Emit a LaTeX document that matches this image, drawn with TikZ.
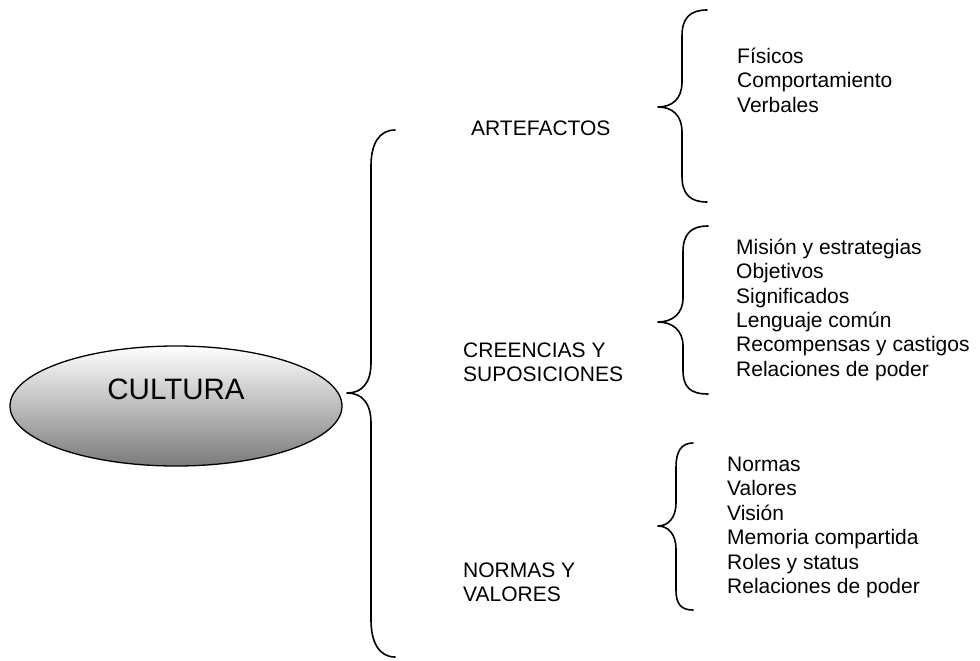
\documentclass[tikz,border=0pt]{standalone}
\usepackage{fontspec}
\setmainfont{Liberation Sans}
\usetikzlibrary{shapes.geometric}
\begin{document}
\begin{tikzpicture}[x=1pt,y=-1pt,
  bracestyle/.style={line width=1.6pt, line cap=round, line join=round},
  txt/.style={font=\fontsize{21}{24.4}\selectfont, inner sep=0pt, anchor=base west, align=left},
  mainnode/.style={ellipse, draw, line width=1.3pt, top color=white, bottom color=black!52,
    minimum width=332pt, minimum height=120pt, inner sep=0pt,
    font=\fontsize{29.5}{34}\selectfont, text height=21.5pt, text depth=35.5pt}]
\useasboundingbox (0,0) rectangle (980,661);

% central node
\node[mainnode] (cultura) at (176,406) {CULTURA};

% main brace
\coordinate (bigtip) at (347,393);
\draw[bracestyle] (395,130) .. controls (379,130) and (371,144) .. (371,166)
  -- (371,363) .. controls (371,383) and (362,393) .. (bigtip)
  .. controls (362,393) and (371,403) .. (371,423)
  -- (371,620) .. controls (371,642) and (379,657) .. (395,657);

% categories (base anchor = baseline of the last line)
\node[txt] (artefactos) at (471,135) {ARTEFACTOS};
\node[txt] (creencias) at (463,381.7) {CREENCIAS Y\\SUPOSICIONES};
\node[txt] (normas) at (463,601.7) {NORMAS Y\\VALORES};

% brace 1
\coordinate (tipA) at (658,107);
\draw[bracestyle] (707,10) .. controls (690,10) and (682,18) .. (682,36)
  -- (682,82) .. controls (682,99) and (672,107) .. (tipA)
  .. controls (672,107) and (682,115) .. (682,132)
  -- (682,176) .. controls (682,194) and (690,202) .. (707,202);
\node[txt] (listA) at (737,112.3) {Físicos\\Comportamiento\\Verbales};

% brace 2
\coordinate (tipB) at (658,322);
\draw[bracestyle] (708,226) .. controls (690,226) and (683,235) .. (683,252)
  -- (683,298) .. controls (683,314) and (672,322) .. (tipB)
  .. controls (672,322) and (683,330) .. (683,346)
  -- (683,370) .. controls (683,387) and (690,394) .. (708,394);
\node[txt] (listB) at (736,376.3) {Misión y estrategias\\Objetivos\\Significados\\Lenguaje común\\Recompensas y castigos\\Relaciones de poder};

% brace 3
\coordinate (tipC) at (658,526);
\draw[bracestyle] (693,443) .. controls (681,443) and (676,452) .. (676,467)
  -- (676,503) .. controls (676,518) and (668,526) .. (tipC)
  .. controls (668,526) and (676,534) .. (676,549)
  -- (676,590) .. controls (676,604) and (681,610) .. (693,610);
\node[txt] (listC) at (727,593.5) {Normas\\Valores\\Visión\\Memoria compartida\\Roles y status\\Relaciones de poder};
\end{tikzpicture}
\end{document}
